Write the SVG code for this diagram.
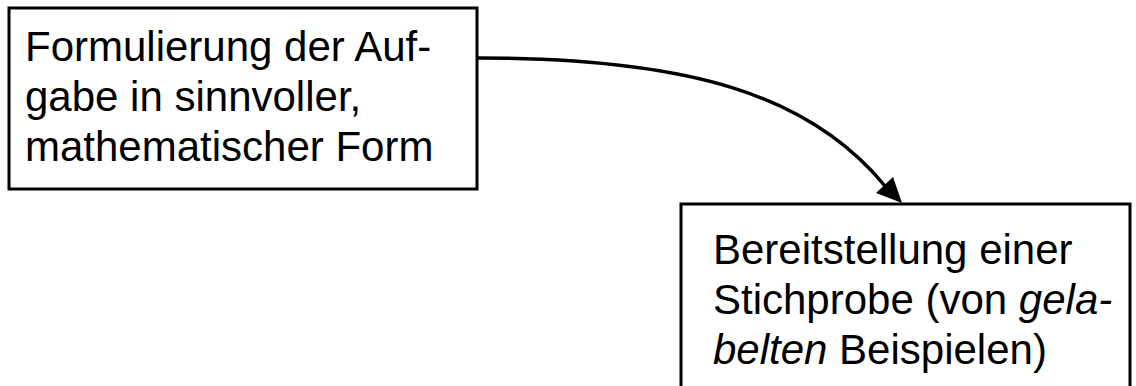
<svg xmlns="http://www.w3.org/2000/svg" width="1136" height="386" viewBox="0 0 1136 386">
<style>
.box{fill:#fff;stroke:#000;stroke-width:3}
.t{font-family:"Liberation Sans",Arial,sans-serif;font-size:42px;fill:#000}
.edge{fill:none;stroke:#000;stroke-width:3.5}
</style>
<g id="node1">
<rect class="box" x="9" y="8" width="468" height="181"/>
<text class="t" x="25" y="61">Formulierung der Auf-</text>
<text class="t" x="25" y="111">gabe in sinnvoller,</text>
<text class="t" x="25" y="161">mathematischer Form</text>
</g>
<g id="node2">
<rect class="box" x="681" y="204" width="449" height="200"/>
<text class="t" x="713" y="264">Bereitstellung einer</text>
<text class="t" x="713" y="314">Stichprobe (von <tspan font-style="italic">gela-</tspan></text>
<text class="t" x="713" y="364"><tspan font-style="italic">belten</tspan> Beispielen)</text>
</g>
<g id="connectors">
<path class="edge" d="M478,58 C690,58 810,95 885,186"/>
<path d="M902,203 L876,193 L893,177 z" fill="#000"/>
</g>
</svg>
